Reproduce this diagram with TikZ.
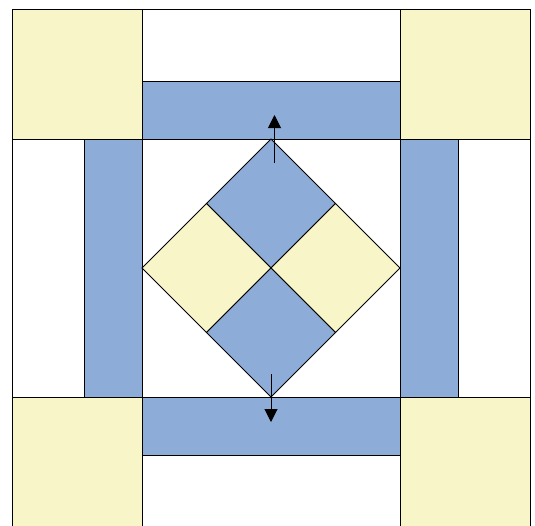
\documentclass[tikz,border=0pt]{standalone}
\usetikzlibrary{arrows.meta}
\definecolor{qyellow}{RGB}{248,246,200}
\definecolor{qblue}{RGB}{141,172,216}
\begin{document}
\begin{tikzpicture}[x=1pt,y=-1pt,
  patch/.style={draw=black,line width=0.8pt,line join=miter},
  ypatch/.style={patch,fill=qyellow},
  bpatch/.style={patch,fill=qblue},
  arr/.style={line width=1pt,-{Triangle[width=13pt,length=13pt]}}]
\useasboundingbox (0,0) rectangle (535,525);
\fill[white] (0,0) rectangle (535,525);
% outer block
\draw[patch] (12.5,9.5) rectangle (530.5,530);
% corner squares
\draw[ypatch] (12.5,9.5) rectangle (142,139);
\draw[ypatch] (400,9.5) rectangle (530.5,139);
\draw[ypatch] (12.5,397) rectangle (142,530);
\draw[ypatch] (400,397) rectangle (530.5,530);
% bars
\draw[bpatch] (142,81) rectangle (400,139);
\draw[bpatch] (142,397) rectangle (400,455);
\draw[bpatch] (84.5,139) rectangle (142,397);
\draw[bpatch] (400,139) rectangle (458,397);
% center square
\draw[patch] (142,139) rectangle (400,397);
% diamond patches
\draw[bpatch] (271,139) -- (335.5,203.5) -- (271,268) -- (206.5,203.5) -- cycle;
\draw[ypatch] (206.5,203.5) -- (271,268) -- (206.5,332.5) -- (142,268) -- cycle;
\draw[ypatch] (335.5,203.5) -- (400,268) -- (335.5,332.5) -- (271,268) -- cycle;
\draw[bpatch] (271,268) -- (335.5,332.5) -- (271,397) -- (206.5,332.5) -- cycle;
% arrows
\coordinate (ua) at (274.5,163);
\coordinate (ub) at (274.5,115);
\coordinate (da) at (271,374);
\coordinate (db) at (271,422);
\draw[arr] (ua) -- (ub);
\draw[arr] (da) -- (db);
\end{tikzpicture}
\end{document}
